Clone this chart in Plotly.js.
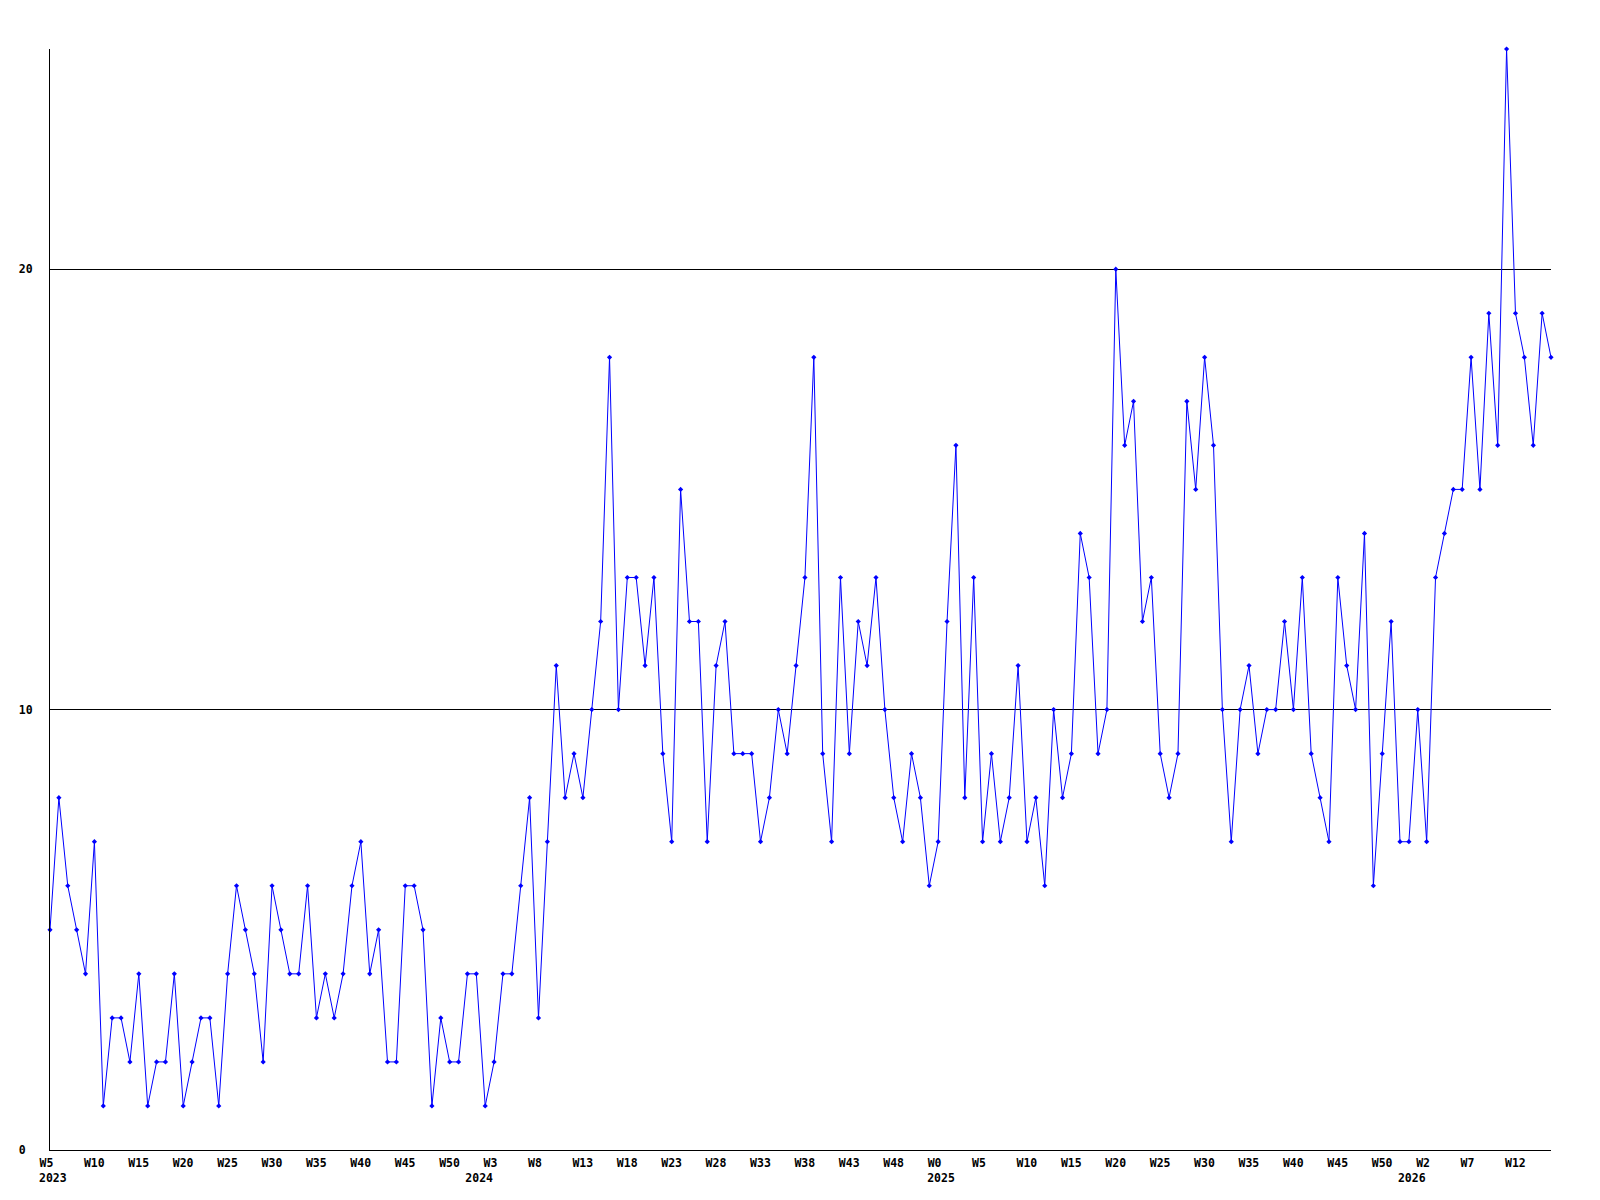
<!DOCTYPE html>
<html>
<head>
<meta charset="utf-8">
<script src="https://cdn.plot.ly/plotly-3.0.1.min.js"></script>
<style>
  html, body { margin: 0; padding: 0; background: #ffffff; }
  #chart { width: 1600px; height: 1200px; }
</style>
</head>
<body>
<div id="chart"></div>
<script>
// Weekly counts, from 2023 W5 to 2026 W16 (one value per week)
const values = [
  5, 8, 6, 5, 4, 7, 1, 3, 3, 2,
  4, 1, 2, 2, 4, 1, 2, 3, 3, 1,
  4, 6, 5, 4, 2, 6, 5, 4, 4, 6,
  3, 4, 3, 4, 6, 7, 4, 5, 2, 2,
  6, 6, 5, 1, 3, 2, 2, 4, 4, 1,
  2, 4, 4, 6, 8, 3, 7, 11, 8, 9,
  8, 10, 12, 18, 10, 13, 13, 11, 13, 9,
  7, 15, 12, 12, 7, 11, 12, 9, 9, 9,
  7, 8, 10, 9, 11, 13, 18, 9, 7, 13,
  9, 12, 11, 13, 10, 8, 7, 9, 8, 6,
  7, 12, 16, 8, 13, 7, 9, 7, 8, 11,
  7, 8, 6, 10, 8, 9, 14, 13, 9, 10,
  20, 16, 17, 12, 13, 9, 8, 9, 17, 15,
  18, 16, 10, 7, 10, 11, 9, 10, 10, 12,
  10, 13, 9, 8, 7, 13, 11, 10, 14, 6,
  9, 12, 7, 7, 10, 7, 13, 14, 15, 15,
  18, 15, 19, 16, 25, 19, 18, 16, 19, 18
];

// Week tick labels (every 5th week) and the week index each one sits on
const weekTickIndex = [0, 5, 10, 15, 20, 25, 30, 35, 40, 45, 50, 55, 60, 65, 70, 75, 80, 85, 90, 95,
                       100, 105, 110, 115, 120, 125, 130, 135, 140, 145, 150, 155, 160, 165];
const weekTickText = ['W5', 'W10', 'W15', 'W20', 'W25', 'W30', 'W35', 'W40', 'W45', 'W50',
                      'W3', 'W8', 'W13', 'W18', 'W23', 'W28', 'W33', 'W38', 'W43', 'W48',
                      'W0', 'W5', 'W10', 'W15', 'W20', 'W25', 'W30', 'W35', 'W40', 'W45',
                      'W50', 'W2', 'W7', 'W12'];

// Year labels and the week index where each year starts
const yearTickIndex = [0, 48, 100, 153];
const yearTickText = ['2023', '2024', '2025', '2026'];

// Y axis ticks
const yTickVals = [0, 10, 20];
const yTickText = ['0\u00a0', '10', '20'];

const xIdx = values.map((v, i) => i);
const xRange = [0, values.length - 1];

const labelFont = { family: 'DejaVu Sans Mono, Liberation Mono, monospace', size: 11.5, color: '#000000', weight: 'bold' };

const trace = {
  type: 'scatter',
  mode: 'lines+markers',
  x: xIdx,
  y: values,
  line: { color: '#0000ff', width: 1 },
  marker: { color: '#0000ff', size: 4, symbol: 'diamond' },
  cliponaxis: false,
  hoverinfo: 'x+y',
  showlegend: false
};

// Same series bound to the year axis (invisible) so that axis is drawn
const yearAxisTrace = {
  type: 'scatter',
  mode: 'lines',
  x: xIdx,
  y: values,
  xaxis: 'x2',
  yaxis: 'y',
  line: { color: 'rgba(0,0,0,0)', width: 0 },
  hoverinfo: 'skip',
  showlegend: false
};

const layout = {
  width: 1600,
  height: 1200,
  paper_bgcolor: '#ffffff',
  plot_bgcolor: '#ffffff',
  margin: { l: 50, r: 49, t: 49, b: 50 },
  showlegend: false,
  xaxis: {
    range: xRange,
    showgrid: false,
    zeroline: false,
    showline: true,
    linecolor: '#000000',
    linewidth: 1,
    ticks: '',
    tickmode: 'array',
    tickvals: weekTickIndex,
    ticktext: weekTickText,
    tickfont: labelFont,
    ticklabelposition: 'outside right',
    ticklabelshift: -11,
    ticklabelstandoff: 2
  },
  xaxis2: {
    overlaying: 'x',
    anchor: 'y',
    side: 'bottom',
    range: xRange,
    showgrid: false,
    zeroline: false,
    showline: false,
    ticks: '',
    tickmode: 'array',
    tickvals: yearTickIndex,
    ticktext: yearTickText,
    tickfont: labelFont,
    ticklabelposition: 'outside right',
    ticklabelshift: -11,
    ticklabelstandoff: 19
  },
  yaxis: {
    range: [0, 25],
    showgrid: true,
    gridcolor: '#000000',
    gridwidth: 1,
    zeroline: false,
    showline: true,
    linecolor: '#000000',
    linewidth: 1,
    ticks: '',
    tickmode: 'array',
    tickvals: yTickVals,
    ticktext: yTickText,
    tickfont: labelFont,
    ticklabelstandoff: 14
  }
};

Plotly.newPlot('chart', [yearAxisTrace, trace], layout, { displayModeBar: false, staticPlot: true });
</script>
</body>
</html>
